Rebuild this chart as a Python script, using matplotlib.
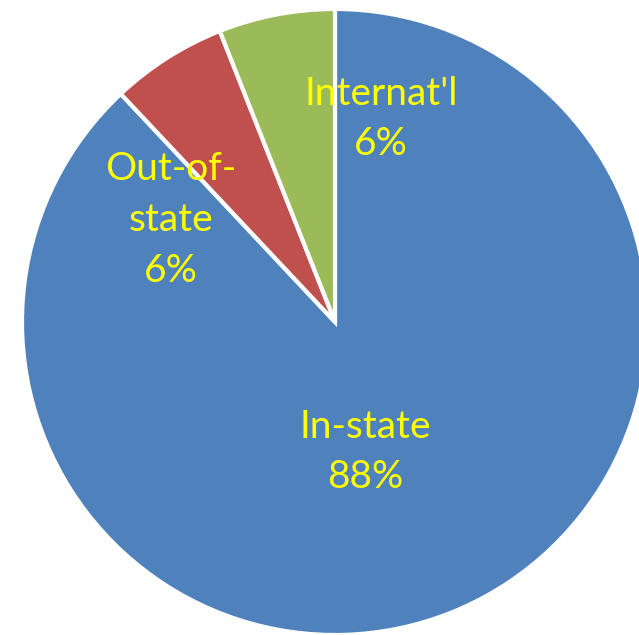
import matplotlib
matplotlib.use("Agg")
import matplotlib.pyplot as plt

# enrolment by origin
labels = ["In-state", "Out-of-\nstate", "Internat'l"]
shares = [88, 6, 6]
colors = ["#4F81BD", "#C0504D", "#9BBB59"]

# label block centres, pixels from the pie centre (x right, y up)
label_offsets = [(30, -130), (-164, 102), (46, 203)]

fig = plt.figure(figsize=(6.39, 6.35), dpi=100)
ax = fig.add_axes([0, 0, 1, 1])

cx, cy, r = 335, 313, 313
ax.pie(shares, colors=colors, startangle=90, counterclock=False,
       center=(cx, cy), radius=r, frame=True,
       wedgeprops=dict(edgecolor="white", linewidth=3))
ax.set_xlim(0, 639)
ax.set_ylim(0, 635)
ax.set_aspect("equal")
ax.axis("off")

for lab, val, (dx, dy) in zip(labels, shares, label_offsets):
    ax.text(cx + dx, cy + dy, f"{lab}\n{val}%", ha="center", va="center",
            color="#FFFF00", fontsize=28, family="Lato", linespacing=1.5)

fig.savefig("out.png", dpi=100)
